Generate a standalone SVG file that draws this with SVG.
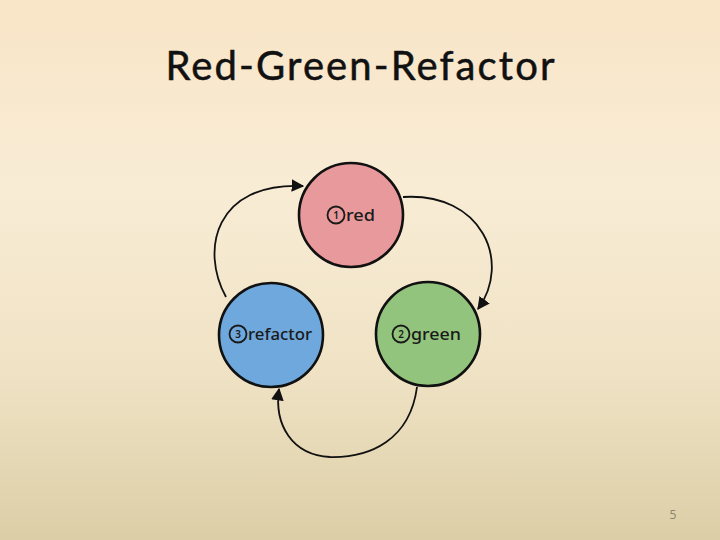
<svg xmlns="http://www.w3.org/2000/svg" width="720" height="540" viewBox="0 0 720 540">
<defs>
<linearGradient id="bg" x1="0" y1="0" x2="0" y2="1">
<stop offset="0" stop-color="#f9e5c7"/>
<stop offset="0.35" stop-color="#f8ecd5"/>
<stop offset="0.7" stop-color="#efe2c4"/>
<stop offset="1" stop-color="#dccea6"/>
</linearGradient>
<marker id="ah" viewBox="0 0 10 10" refX="9" refY="5" markerWidth="7" markerHeight="7" orient="auto" markerUnits="strokeWidth">
<path d="M0,0 L10,5 L0,10 z" fill="#111"/>
</marker>
<style>
.node{stroke:#111;stroke-width:2.6}
.lbl{font-family:"Noto Sans","DejaVu Sans",sans-serif;font-weight:500;font-size:17px;fill:#1a1a1a}
.num{font-family:"Noto Sans","DejaVu Sans",sans-serif;font-weight:600;font-size:10px;fill:#1a1a1a;text-anchor:middle}
.badge{fill:none;stroke:#1a1a1a;stroke-width:1.8}
.conn{fill:none;stroke:#111;stroke-width:1.8;marker-end:url(#ah)}
</style>
</defs>
<rect width="720" height="540" fill="url(#bg)"/>
<text x="360" y="80" text-anchor="middle" font-family="Lato, 'Open Sans', sans-serif" font-size="40" fill="#111" stroke="#111" stroke-width="0.5" textLength="389" lengthAdjust="spacing">Red-Green-Refactor</text>
<g id="connectors">
<path class="conn" d="M226,297 C200,250 215,182 303,186"/>
<path class="conn" d="M403,197 C482,192 512,262 478,309"/>
<path class="conn" d="M417,387 C410,440 370,458 330,457 C292,455 274,425 279,389"/>
</g>
<g id="red">
<circle class="node" cx="351" cy="215" r="52" fill="#e8999b"/>
<circle class="badge" cx="336" cy="215" r="8.5"/>
<text class="num" x="336" y="218.5">1</text>
<text class="lbl" x="346" y="221" textLength="29" lengthAdjust="spacingAndGlyphs">red</text>
</g>
<g id="green">
<circle class="node" cx="428" cy="334" r="52" fill="#93c47d"/>
<circle class="badge" cx="401" cy="334" r="8.5"/>
<text class="num" x="401" y="337.5">2</text>
<text class="lbl" x="411" y="340" textLength="50" lengthAdjust="spacingAndGlyphs">green</text>
</g>
<g id="refactor">
<circle class="node" cx="271" cy="335" r="52" fill="#6fa8dc"/>
<circle class="badge" cx="238" cy="334" r="8.5"/>
<text class="num" x="238" y="337.5">3</text>
<text class="lbl" x="248" y="340" textLength="64" lengthAdjust="spacingAndGlyphs">refactor</text>
</g>
<text x="673" y="519" text-anchor="middle" font-family="'Open Sans', sans-serif" font-size="12" fill="#8a8470">5</text>
</svg>
